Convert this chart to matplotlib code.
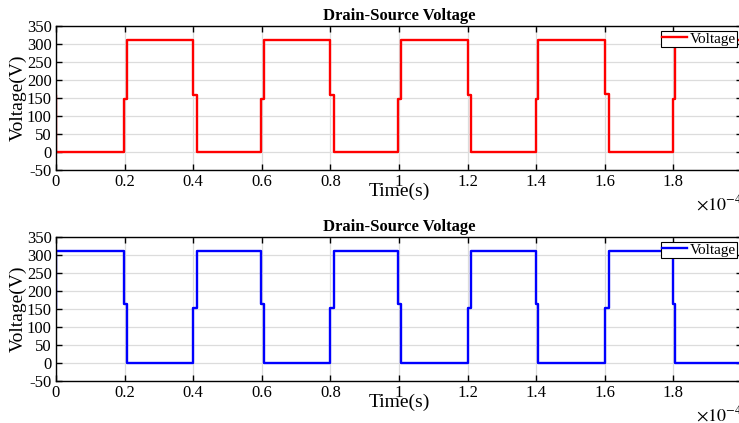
import matplotlib
matplotlib.use('Agg')
import matplotlib.pyplot as plt
from matplotlib.ticker import FuncFormatter

plt.rcParams['font.family'] = ['Liberation Serif', 'DejaVu Serif']
plt.rcParams['mathtext.fontset'] = 'stix'
plt.rcParams['axes.unicode_minus'] = False

# switching instants in units of 1e-4 s, levels in volts (steps-post)
t_top = [0.0, 0.001, 0.198, 0.206, 0.400, 0.411, 0.598, 0.606, 0.800, 0.811,
         0.998, 1.006, 1.200, 1.211, 1.398, 1.406, 1.600, 1.611, 1.798, 1.806, 2.0]
v_top = [155, 0, 147, 310, 157, 0, 147, 310, 157, 0,
         147, 310, 158, 0, 147, 310, 160, 0, 147, 310, 310]

t_bot = [0.0, 0.001, 0.198, 0.206, 0.400, 0.411, 0.598, 0.606, 0.800, 0.811,
         0.998, 1.006, 1.200, 1.211, 1.398, 1.406, 1.600, 1.611, 1.798, 1.806, 2.0]
v_bot = [155, 310, 165, 0, 153, 310, 165, 0, 153, 310,
         165, 0, 153, 310, 165, 0, 153, 310, 165, 0, 0]

x_ticks = [0, 0.2, 0.4, 0.6, 0.8, 1.0, 1.2, 1.4, 1.6, 1.8]
y_ticks = [-50, 0, 50, 100, 150, 200, 250, 300, 350]
title = 'Drain-Source Voltage'

fig = plt.figure(figsize=(7.39, 4.23), dpi=100)
W, H = 739.0, 423.0
ax1 = fig.add_axes([56 / W, 1 - 170 / H, 686 / W, 144 / H])
ax2 = fig.add_axes([56 / W, 1 - 381 / H, 686 / W, 144 / H])

for ax, t, v, col in [(ax1, t_top, v_top, 'red'), (ax2, t_bot, v_bot, 'blue')]:
    ax.plot(t, v, color=col, lw=1.7, drawstyle='steps-post', label='Voltage')
    ax.set_xlim(0, 2.0)
    ax.set_ylim(-50, 350)
    ax.set_yticks(y_ticks)
    ax.set_xticks(x_ticks)
    ax.xaxis.set_major_formatter(FuncFormatter(lambda x, p: '%g' % round(x, 2)))
    ax.grid(True, color='#dcdcdc', lw=0.9)
    ax.set_axisbelow(True)
    ax.tick_params(direction='in', top=True, right=True, length=4,
                   labelsize=12, width=1, pad=3)
    for s in ax.spines.values():
        s.set_linewidth(1.0)
    ax.set_title(title, fontsize=12, fontweight='bold', pad=4)
    ax.set_ylabel('Voltage(V)', fontsize=14, labelpad=0)
    ax.set_xlabel('Time(s)', fontsize=14)
    ax.xaxis.set_label_coords(0.5, -0.09)
    ax.text(1.0, -0.17, r'$\times10^{-4}$', transform=ax.transAxes,
            ha='right', va='top', fontsize=13)
    leg = ax.legend(loc='upper right', fontsize=11, fancybox=False,
                    framealpha=1, edgecolor='black', borderpad=0.1,
                    handlelength=1.6, handletextpad=0.2, borderaxespad=0.3)
    leg.get_frame().set_linewidth(0.8)

fig.savefig('out.png', dpi=100)
